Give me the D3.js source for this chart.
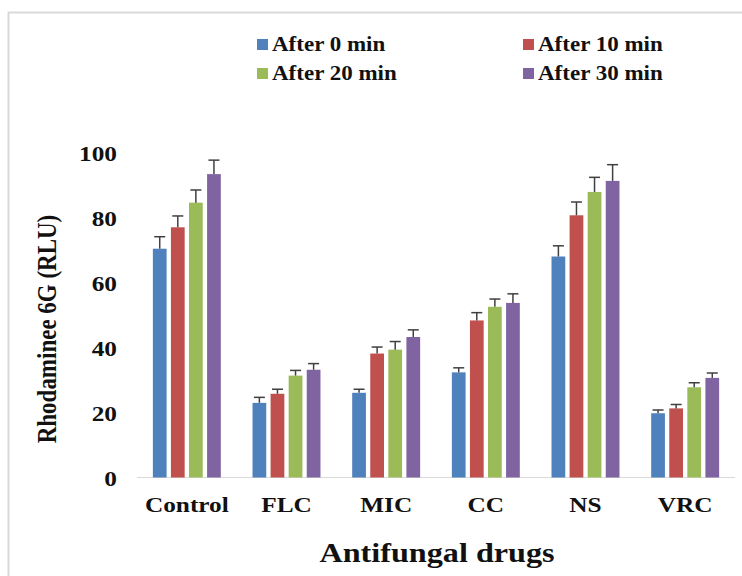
<!DOCTYPE html>
<html>
<head>
<meta charset="utf-8">
<script src="https://cdn.jsdelivr.net/npm/d3@7"></script>
<style>
  body { margin: 0; background: #fff; }
  text { font-family: "Liberation Serif", "Times New Roman", serif; font-weight: bold; fill: #111; }
</style>
</head>
<body>
<div id="chart"></div>
<script>
var categories = ["Control", "FLC", "MIC", "CC", "NS", "VRC"];
var seriesNames = ["After 0 min", "After 10 min", "After 20 min", "After 30 min"];
var colors = ["#4F81BD", "#C0504D", "#9BBB59", "#8064A2"];

// values per series, in category order
var after0 = [70.5, 23.0, 26.1, 32.4, 68.1, 19.8];
var after10 = [77.1, 25.8, 38.2, 48.4, 80.8, 21.3];
var after20 = [84.7, 31.4, 39.4, 52.6, 88.0, 27.8];
var after30 = [93.5, 33.2, 43.3, 53.8, 91.4, 30.7];

// error (SD) per series
var err0 = [3.7, 1.7, 1.1, 1.4, 3.3, 1.0];
var err10 = [3.5, 1.4, 2.0, 2.4, 4.1, 1.2];
var err20 = [3.9, 1.6, 2.5, 2.4, 4.5, 1.4];
var err30 = [4.3, 1.9, 2.2, 2.8, 5.0, 1.5];

var yTicks = [0, 20, 40, 60, 80, 100];

var values = [after0, after10, after20, after30];
var errors = [err0, err10, err20, err30];

var width = 742, height = 576;
var stretch = 1.15; // the text in the original is a bit wide

var svg = d3.select("#chart").append("svg")
    .attr("width", width)
    .attr("height", height);

// outer frame
svg.append("rect")
    .attr("x", 8.5).attr("y", 12.5)
    .attr("width", 760).attr("height", 600)
    .attr("fill", "none")
    .attr("stroke", "#d9d9d9")
    .attr("stroke-width", 2);

var x0 = d3.scaleBand()
    .domain(categories)
    .range([137, 735])
    .paddingInner(0.3)
    .paddingOuter(0.15);

var x1 = d3.scaleBand()
    .domain(d3.range(seriesNames.length))
    .range([0, x0.bandwidth()])
    .paddingInner(0.24)
    .paddingOuter(0.05);

var y = d3.scaleLinear()
    .domain([0, 100])
    .range([477.5, 153]);

// baseline
svg.append("line")
    .attr("x1", 137).attr("x2", 735)
    .attr("y1", y(0)).attr("y2", y(0))
    .attr("stroke", "#d9d9d9")
    .attr("stroke-width", 1);

// bars
var groups = svg.selectAll("g.series")
    .data(seriesNames)
    .enter().append("g")
    .attr("class", "series");

groups.each(function(name, si) {
    var g = d3.select(this);
    var rows = categories.map(function(c, ci) {
        return { cat: c, v: values[si][ci], e: errors[si][ci] };
    });

    g.selectAll("rect")
        .data(rows)
        .enter().append("rect")
        .attr("x", function(d) { return x0(d.cat) + x1(si); })
        .attr("y", function(d) { return y(d.v); })
        .attr("width", x1.bandwidth())
        .attr("height", function(d) { return y(0) - y(d.v); })
        .attr("fill", colors[si]);

    var cx = function(d) { return x0(d.cat) + x1(si) + x1.bandwidth() / 2; };

    g.selectAll("line.err")
        .data(rows)
        .enter().append("line")
        .attr("class", "err")
        .attr("x1", cx).attr("x2", cx)
        .attr("y1", function(d) { return y(d.v); })
        .attr("y2", function(d) { return y(d.v + d.e); })
        .attr("stroke", "#404040")
        .attr("stroke-width", 1.5);

    g.selectAll("line.cap")
        .data(rows)
        .enter().append("line")
        .attr("class", "cap")
        .attr("x1", function(d) { return cx(d) - 5.5; })
        .attr("x2", function(d) { return cx(d) + 5.5; })
        .attr("y1", function(d) { return y(d.v + d.e); })
        .attr("y2", function(d) { return y(d.v + d.e); })
        .attr("stroke", "#404040")
        .attr("stroke-width", 1.5);
});

// y tick labels
svg.selectAll("text.ytick")
    .data(yTicks)
    .enter().append("text")
    .attr("class", "ytick")
    .attr("transform", function(d) { return "translate(117," + (y(d) + 8) + ") scale(" + stretch + ",1)"; })
    .attr("text-anchor", "end")
    .attr("font-size", 22)
    .text(function(d) { return d; });

// x category labels
svg.selectAll("text.xtick")
    .data(categories)
    .enter().append("text")
    .attr("class", "xtick")
    .attr("transform", function(d) { return "translate(" + (x0(d) + x0.bandwidth() / 2) + ",512) scale(" + stretch + ",1)"; })
    .attr("text-anchor", "middle")
    .attr("font-size", 22)
    .text(function(d) { return d; });

// axis titles
svg.append("text")
    .attr("transform", "translate(437,562) scale(" + stretch + ",1)")
    .attr("text-anchor", "middle")
    .attr("font-size", 28)
    .text("Antifungal drugs");

svg.append("text")
    .attr("transform", "translate(56,329) rotate(-90) scale(1," + stretch + ")")
    .attr("text-anchor", "middle")
    .attr("font-size", 23)
    .text("Rhodaminee 6G (RLU)");

// legend
var legendPos = [[257, 39], [523, 39], [257, 68], [523, 68]];
var legend = svg.selectAll("g.legend")
    .data(seriesNames)
    .enter().append("g")
    .attr("class", "legend")
    .attr("transform", function(d, i) { return "translate(" + legendPos[i][0] + "," + legendPos[i][1] + ")"; });

legend.append("rect")
    .attr("width", 11).attr("height", 11)
    .attr("fill", function(d, i) { return colors[i]; });

legend.append("text")
    .attr("transform", "translate(15,12) scale(" + stretch + ",1)")
    .attr("font-size", 20)
    .text(function(d) { return d; });
</script>
</body>
</html>
